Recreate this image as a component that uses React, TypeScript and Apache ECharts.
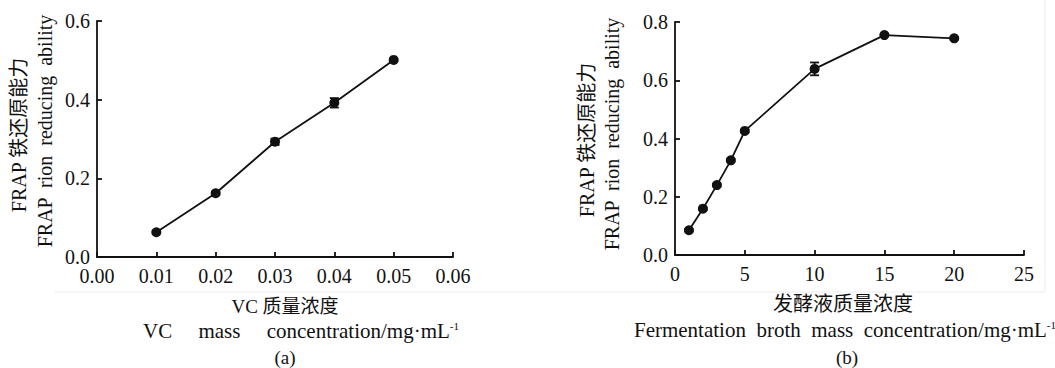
import React, { useEffect, useRef } from "react";
import * as echarts from "echarts";

// Panel (a): VC
const vcX = [0.01, 0.02, 0.03, 0.04, 0.05];
const vcY = [0.063, 0.162, 0.293, 0.392, 0.501];
const vcErr = [0.003, 0.004, 0.008, 0.012, 0.003];

// Panel (b): fermentation broth
const fbX = [1, 2, 3, 4, 5, 10, 15, 20];
const fbY = [0.085, 0.159, 0.24, 0.325, 0.426, 0.639, 0.755, 0.744];
const fbErr = [0.004, 0.004, 0.005, 0.005, 0.005, 0.022, 0.004, 0.004];

const yTitleCn = "FRAP 铁还原能力";
const yTitleEn = "FRAP  rion  reducing  ability";
const xTitleCnA = "VC 质量浓度";
const xTitleEnA = "VC     mass     concentration/mg·mL";
const xTitleCnB = "发酵液质量浓度";
const xTitleEnB = "Fermentation  broth  mass  concentration/mg·mL";

const FONT = "Liberation Serif, Noto Sans CJK SC, serif";
const INK = "#111";

export default function App() {
  const ref = useRef<HTMLDivElement>(null);
  useEffect(() => {
    if (!ref.current) return;
    const chart = echarts.init(ref.current, null, { renderer: "svg" });

    const axisCommon = {
      type: "value" as const,
      axisLine: { show: true, lineStyle: { color: INK, width: 1.8 } },
      axisTick: { show: true, inside: true, length: 5, lineStyle: { color: INK, width: 1.8 } },
      splitLine: { show: false },
      axisLabel: { color: INK, fontFamily: FONT, fontSize: 20 },
    };

    const errRender = (params: any, api: any) => {
      const x = api.value(0);
      const y = api.value(1);
      const e = api.value(2);
      const top = api.coord([x, y + e]);
      const bot = api.coord([x, y - e]);
      const hw = 4.5;
      const st = { stroke: INK, lineWidth: 1.8 };
      return {
        type: "group",
        children: [
          { type: "line", shape: { x1: top[0], y1: top[1], x2: bot[0], y2: bot[1] }, style: st },
          { type: "line", shape: { x1: top[0] - hw, y1: top[1], x2: top[0] + hw, y2: top[1] }, style: st },
          { type: "line", shape: { x1: bot[0] - hw, y1: bot[1], x2: bot[0] + hw, y2: bot[1] }, style: st },
        ],
      };
    };

    const vText = (text: string, x: number, y: number) => ({
      type: "text",
      x,
      y,
      rotation: Math.PI / 2,
      style: {
        text,
        font: `20px ${FONT}`,
        fill: INK,
        align: "center",
        verticalAlign: "middle",
      },
    });

    const hText = (text: string, x: number, y: number, size: number, sup?: boolean) => ({
      type: "text",
      x,
      y,
      style: sup
        ? {
            text: `{n|${text}}{s|-1}`,
            align: "center",
            verticalAlign: "middle",
            rich: {
              n: { fontFamily: FONT, fontSize: size, fill: INK, lineHeight: 22 },
              s: { fontFamily: FONT, fontSize: 11, fill: INK, verticalAlign: "top", lineHeight: 22, padding: [0, 0, 8, 0] },
            },
          }
        : {
            text,
            font: `${size}px ${FONT}`,
            fill: INK,
            align: "center",
            verticalAlign: "middle",
          },
    });

    chart.setOption({
      animation: false,
      backgroundColor: "#fff",
      grid: [
        { left: 97, top: 21, width: 356, height: 236 },
        { left: 675, top: 22, width: 349, height: 233 },
      ],
      xAxis: [
        {
          ...axisCommon,
          gridIndex: 0,
          min: 0,
          max: 0.06,
          interval: 0.01,
          axisLabel: { ...axisCommon.axisLabel, margin: 9, formatter: (v: number) => v.toFixed(2) },
        },
        {
          ...axisCommon,
          gridIndex: 1,
          min: 0,
          max: 25,
          interval: 5,
          axisLabel: { ...axisCommon.axisLabel, margin: 9 },
        },
      ],
      yAxis: [
        {
          ...axisCommon,
          gridIndex: 0,
          min: 0,
          max: 0.6,
          interval: 0.2,
          axisLabel: { ...axisCommon.axisLabel, margin: 7, formatter: (v: number) => v.toFixed(1) },
        },
        {
          ...axisCommon,
          gridIndex: 1,
          min: 0,
          max: 0.8,
          interval: 0.2,
          axisLabel: { ...axisCommon.axisLabel, margin: 7, formatter: (v: number) => v.toFixed(1) },
        },
      ],
      series: [
        {
          type: "custom",
          xAxisIndex: 0,
          yAxisIndex: 0,
          renderItem: errRender,
          data: vcX.map((x, i) => [x, vcY[i], vcErr[i]]),
          z: 3,
        },
        {
          type: "line",
          xAxisIndex: 0,
          yAxisIndex: 0,
          data: vcX.map((x, i) => [x, vcY[i]]),
          symbol: "circle",
          symbolSize: 10,
          itemStyle: { color: INK },
          lineStyle: { color: INK, width: 1.8 },
          z: 4,
        },
        {
          type: "custom",
          xAxisIndex: 1,
          yAxisIndex: 1,
          renderItem: errRender,
          data: fbX.map((x, i) => [x, fbY[i], fbErr[i]]),
          z: 3,
        },
        {
          type: "line",
          xAxisIndex: 1,
          yAxisIndex: 1,
          data: fbX.map((x, i) => [x, fbY[i]]),
          symbol: "circle",
          symbolSize: 10,
          itemStyle: { color: INK },
          lineStyle: { color: INK, width: 1.8 },
          z: 4,
        },
      ],
      graphic: [
        { type: "line", shape: { x1: 55, y1: 292, x2: 1045, y2: 292 }, style: { stroke: "#ececec", lineWidth: 1 } },
        { type: "line", shape: { x1: 1045, y1: 0, x2: 1045, y2: 292 }, style: { stroke: "#ececec", lineWidth: 1 } },
        vText(yTitleCn, 19, 135),
        vText(yTitleEn, 45, 131),
        vText(yTitleCn, 587, 140),
        vText(yTitleEn, 612, 134),
        hText(xTitleCnA, 285, 306, 19),
        hText(xTitleEnA, 301, 331, 21, true),
        hText("(a)", 285, 357, 19),
        hText(xTitleCnB, 843, 304, 20),
        hText(xTitleEnB, 845, 330, 21, true),
        hText("(b)", 847, 357, 19),
      ],
    });
    return () => chart.dispose();
  }, []);
  return (
    <div
      ref={ref}
      style={{ position: "absolute", left: 0, top: 0, width: 1055, height: 368 }}
    />
  );
}
